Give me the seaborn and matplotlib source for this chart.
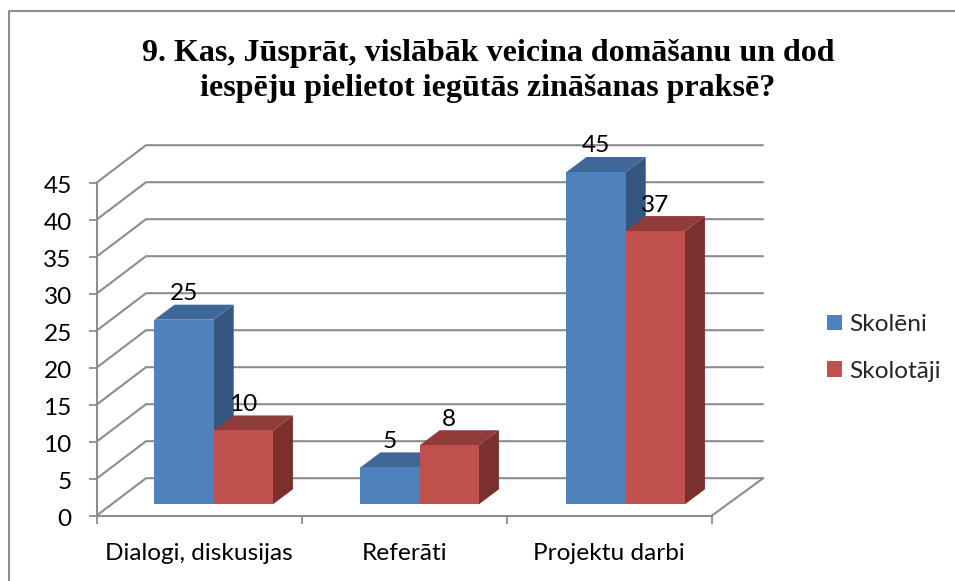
import matplotlib
matplotlib.use("Agg")
import matplotlib.pyplot as plt
import pandas as pd
import seaborn as sns
from matplotlib.lines import Line2D
from matplotlib.patches import Patch, Polygon, Rectangle
from matplotlib.transforms import IdentityTransform, ScaledTranslation

# Chart values
categories = ["Dialogi, diskusijas", "Referāti", "Projektu darbi"]
skoleni = [25, 5, 45]
skolotaji = [10, 8, 37]
y_ticks = list(range(0, 50, 5))
title = "9. Kas, Jūsprāt, vislābāk veicina domāšanu un dod\niespēju pielietot iegūtās zināšanas praksē?"

W, H = 955, 581
GREY = "#8c8c8c"
FRONT = ["#4f81bd", "#c0504d"]
TOPS = ["#3f6797", "#8f3c3a"]
SIDES = ["#345680", "#7b302e"]
FONT = 17.6

sns.set_theme(style="white")
plt.rcParams["font.family"] = ["Lato", "DejaVu Sans"]

data = pd.DataFrame({
    "kat": categories * 2,
    "val": skoleni + skolotaji,
    "grupa": ["Skolēni"] * 3 + ["Skolotāji"] * 3,
})


def box(x0, ytop, x1, ybottom):
    # pixel box, measured from top left of the image
    return [x0 / W, 1 - ybottom / H, (x1 - x0) / W, (ybottom - ytop) / H]


fig = plt.figure(figsize=(9.55, 5.81), dpi=100)
pix = IdentityTransform()

# outer frame, only left and top fall inside the image
fig.add_artist(Line2D([8.5 / W, 8.5 / W, 1], [0, 1 - 11 / H, 1 - 11 / H],
                      color=GREY, lw=1.5, transform=fig.transFigure))

fig.text(488 / W, 1 - 71 / H, title, family="Liberation Serif", weight="bold", fontsize=23,
         color="black", ha="center", va="center", linespacing=1.24)

# front plane of the axis box, holds ticks and labels
ax = fig.add_axes(box(96.5, 182.7, 711.7, 515.7))
ax.set_xlim(0, 3)
ax.set_ylim(0, 45)
ax.patch.set_alpha(0)
sns.despine(ax=ax, top=True, right=True)
for s in ["left", "bottom"]:
    ax.spines[s].set_color(GREY)
    ax.spines[s].set_linewidth(1.5)
ax.set_yticks(y_ticks)
ax.set_xticks([0, 1, 2, 3])
ax.set_xticklabels([])
ax.tick_params(axis="both", length=5.8, width=1.3, color=GREY, left=True, bottom=True, labelsize=FONT,
               labelcolor="black", pad=12)
# tick digits sit a little lower than the gridline centre
nudge = ScaledTranslation(0, -2 / 100, fig.dpi_scale_trans)
for lbl in ax.get_yticklabels():
    lbl.set_transform(lbl.get_transform() + nudge)
for i, name in enumerate(categories):
    ax.text(i + 0.5, -5.1, name, ha="center", va="center", fontsize=FONT, color="black", clip_on=False)

# gridlines run from the front axis over the side wall to the back wall
DX, DY = 49.5, 37.5
for v in y_ticks:
    x0, y0 = ax.transData.transform((0, v))
    xs = [x0, x0 + DX, x0 + DX + 617]
    ys = [y0, y0 + DY, y0 + DY]
    fig.add_artist(Line2D(xs, ys, color=GREY, lw=1.5, transform=pix, zorder=1))
x3, y3 = ax.transData.transform((3, 0))
fig.add_artist(Line2D([x3, x3 + DX + 2], [y3, y3 + DY], color=GREY, lw=1.5, transform=pix, zorder=1))

# bars sit on their own plane, set into the box
bar_ax = fig.add_axes(box(110.7, 172, 728.7, 504.3))
bar_ax.patch.set_alpha(0)
sns.barplot(data=data, x="kat", y="val", hue="grupa", order=categories, palette=FRONT,
            width=0.575, gap=0, saturation=1, legend=False, ax=bar_ax, zorder=5,
            linewidth=0, edgecolor="none")
bar_ax.set_xlim(-0.5, 2.5)
bar_ax.set_ylim(0, 45)
bar_ax.axis("off")

# depth faces worked out from each bar's own rectangle
BDX, BDY = 20, 15
bars = [p for p in bar_ax.patches if isinstance(p, Rectangle)]
for j, p in enumerate(bars):
    s = j // 3
    (xa, ya) = bar_ax.transData.transform((p.get_x(), p.get_y()))
    (xb, yb) = bar_ax.transData.transform((p.get_x() + p.get_width(), p.get_height()))
    side = Polygon([(xb, ya), (xb + BDX, ya + BDY), (xb + BDX, yb + BDY), (xb, yb)], closed=True,
                   fc=SIDES[s], ec="none", transform=pix, zorder=3 + s)
    top = Polygon([(xa, yb), (xa + BDX, yb + BDY), (xb + BDX, yb + BDY), (xb, yb)], closed=True,
                  fc=TOPS[s], ec="none", transform=pix, zorder=3 + s)
    fig.add_artist(side)
    fig.add_artist(top)

# front faces above the depth faces, labels above all
bar_ax.set_zorder(5)
ax.set_zorder(0)
for j, p in enumerate(bars):
    val = (skoleni + skolotaji)[j]
    xm, ym = bar_ax.transData.transform((p.get_x() + p.get_width() / 2, val))
    fig.text(xm / W, (ym + 26) / H, str(val), ha="center", va="center", fontsize=FONT, color="black", zorder=20)

handles = [Patch(fc=FRONT[0], ec="none", label="Skolēni"), Patch(fc=FRONT[1], ec="none", label="Skolotāji")]
fig.legend(handles=handles, loc="center left", bbox_to_anchor=(827 / W, 1 - 348 / H), frameon=False,
           fontsize=FONT, handlelength=0.62, handleheight=0.62, handletextpad=0.3, labelspacing=1.06,
           borderaxespad=0, borderpad=0)

fig.savefig("out.png", dpi=100)
